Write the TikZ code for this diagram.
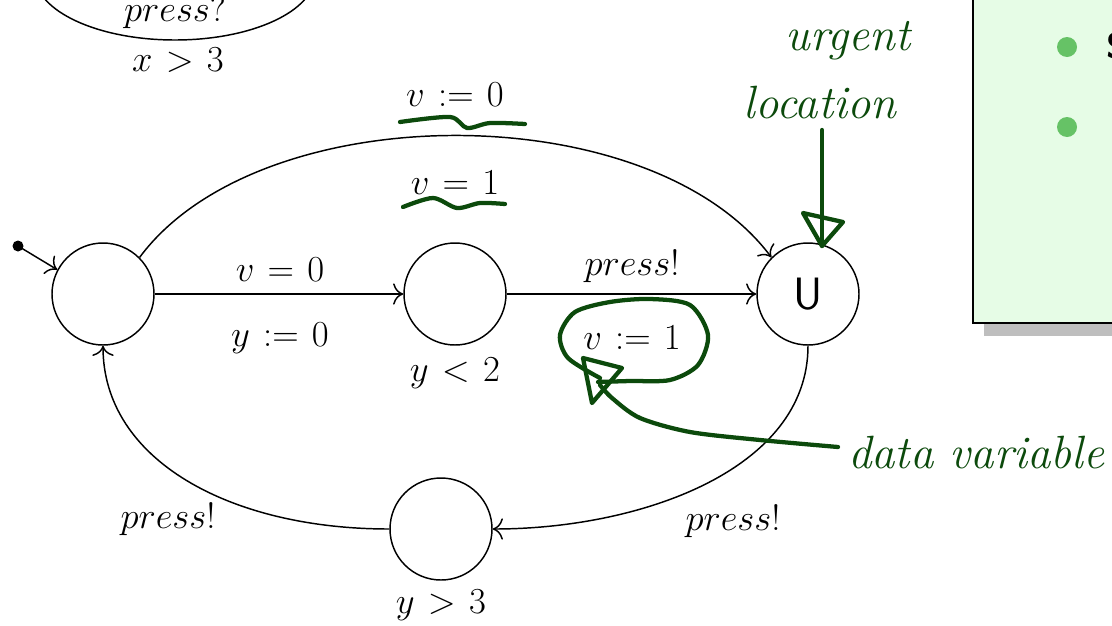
\RequirePackage{fix-cm}
\documentclass[tikz,border=0pt]{standalone}
\usepackage{fontspec}
\usetikzlibrary{arrows.meta}
\definecolor{hand}{RGB}{12,74,12}
\definecolor{boxfill}{RGB}{230,252,230}
\definecolor{bulletgreen}{RGB}{102,194,102}
\definecolor{shadowgray}{RGB}{190,190,190}
\begin{document}
\begin{tikzpicture}[x=0.75pt,y=-0.75pt,
  loc/.style={circle,draw,line width=1.1pt,minimum size=76.5pt,inner sep=0pt},
  lbl/.style={font=\fontsize{27.5}{32}\selectfont,inner sep=0pt},
  edge/.style={line width=1.1pt,-{To[scale=1.9]}},
  handline/.style={hand,line width=3.2pt,line cap=round,line join=round},
  handtext/.style={hand,font=\fontsize{35}{40}\selectfont\itshape,inner sep=0pt}]
\thickmuskip=6.5mu
\path[use as bounding box] (0,0) rectangle (1112,625);

% partial ellipse top-left
\draw[line width=1.1pt] (175,-25) ellipse [x radius=140, y radius=65];
\node[lbl] (pq) at (175,12) {$press?$};
\node[lbl] (x3) at (178,60) {$x>3$};

% green box
\fill[shadowgray] (984,-10) rectangle (1130,336);
\draw[line width=1.8pt,fill=boxfill] (973,-10) rectangle (1130,323);
\fill[bulletgreen] (1067,47) circle (10);
\fill[bulletgreen] (1067,127) circle (10);
\node[anchor=base west,inner sep=0pt,font=\fontsize{27}{30}\selectfont\sffamily\bfseries] (S) at (1106,58) {S};

% locations
\node[loc] (L) at (103,294) {};
\node[loc] (M) at (455,294) {};
\node[loc] (U) at (808,294) {\fontsize{34}{40}\selectfont\sffamily U};
\node[loc] (B) at (441,529) {};
\node[lbl] (My) at (455,373) {$y<2$};
\node[lbl] (By) at (441,605) {$y>3$};

% initial
\fill (18,246) circle (5.5) coordinate (init);
\draw[edge] (init) -- (L.152);

% edges
\draw[edge] (L) -- (M);
\draw[edge] (M) -- (U);
\draw[edge] (L.45) .. controls (260,95) and (650,95) .. (U.135);
\draw[edge] (U.270) .. controls (808,470) and (640,529) .. (B.0);
\draw[edge] (B.180) .. controls (230,529) and (103,460) .. (L.270);

% labels
\node[lbl] (t1) at (455,95) {$v:=0$};
\node[lbl] (t2) at (455,183) {$v=1$};
\node[lbl] (a1) at (280,270) {$v=0$};
\node[lbl] (a2) at (280,338) {$y:=0$};
\node[lbl] (b1) at (632,266) {$press!$};
\node[lbl] (b2) at (632,338) {$v:=1$};
\node[lbl] (c1) at (733,521) {$press!$};
\node[lbl] (d1) at (168,519) {$press!$};

% handwritten annotations
\node[handtext,anchor=base] (urg) at (848,50) {urgent};
\node[handtext,anchor=base] (locn) at (820,118) {location};
\draw[handline] (822,130) -- (822,246);
\draw[handline] (822,246) -- (803,213) -- (843,222) -- cycle;

\draw[handline] plot[smooth] coordinates {(400,122) (450,117) (467,128) (490,123) (525,124)};
\draw[handline] plot[smooth] coordinates {(403,207) (433,198) (457,208) (480,203) (505,204)};

\draw[handline] plot[smooth] coordinates {(600,378) (568,358) (560,335) (575,312) (610,302) (650,299) (690,305) (708,335) (698,365) (670,380) (630,381) (598,382)};
\draw[handline] (592,403) -- (583,358) -- (622,368) -- cycle;
\draw[handline] plot[smooth] coordinates {(838,447) (760,440) (690,432) (640,418) (612,398) (600,385)};
\node[handtext,anchor=base west] (dv) at (848,468) {data variable};
\end{tikzpicture}
\end{document}
